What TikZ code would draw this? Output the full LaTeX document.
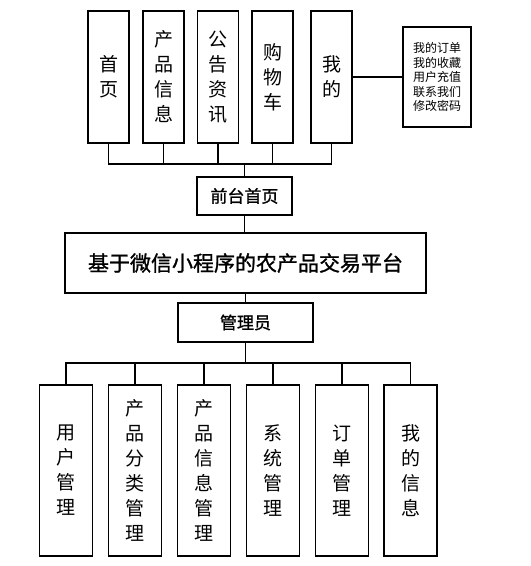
\documentclass[tikz,border=0pt]{standalone}
\usepackage{fontspec}
\newfontfamily\cjk{Noto Sans CJK SC}
\newfontfamily\cjkb[FakeBold=1.2]{Noto Sans CJK SC}
\usepackage{tikz}
\usetikzlibrary{positioning}

\begin{document}
\begin{tikzpicture}[
    x=1pt, y=-1pt,
    every node/.style = {draw, line width=1.3pt, inner sep=0pt, align=center, font=\cjk},
    topbox/.style = {minimum width=41pt, minimum height=132pt, font=\cjk\fontsize{19}{25}\selectfont},
    botbox/.style = {minimum width=53pt, minimum height=171pt, font=\cjk\fontsize{19}{25}\selectfont},
    line/.style = {line width=1.3pt}
  ]
  \useasboundingbox (0,0) rectangle (531,566);

  % 前台
  \node[topbox] (sy) at (108.5,77) {首\\页};
  \node[topbox] (cp) at (163.5,77) {产\\品\\信\\息};
  \node[topbox] (gg) at (218,77) {公\\告\\资\\讯};
  \node[topbox] (gw) at (272.5,77) {购\\物\\车};
  \node[topbox] (wd) at (331.5,77) {我\\的};
  \node[minimum width=68pt, minimum height=100pt, font=\cjk\fontsize{12}{14.5}\selectfont]
    (wdx) at (437,77) {我的订单\\我的收藏\\用户充值\\联系我们\\修改密码};
  \node[minimum width=95pt, minimum height=38pt, font=\cjkb\fontsize{17}{20}\selectfont]
    (qt) at (244.5,196) {前台首页};
  \coordinate (tb) at (244.5,164);
  \draw[line] (sy.south) |- (tb);
  \draw[line] (cp.south) |- (tb);
  \draw[line] (gg.south) |- (tb);
  \draw[line] (gw.south) |- (tb);
  \draw[line] (wd.south) |- (tb);
  \draw[line] (tb) -- (qt.north);
  \draw[line] (wd.east) -- (wdx.west);

  % 平台
  \node[minimum width=361pt, minimum height=60pt, font=\cjkb\fontsize{21}{26}\selectfont]
    (pt) at (245.5,263) {基于微信小程序的农产品交易平台};
  \draw[line] (qt.south) -- (qt.south |- pt.north);

  % 后台
  \node[minimum width=135pt, minimum height=39pt, font=\cjkb\fontsize{17}{20}\selectfont]
    (gly) at (245.5,322.5) {管理员};
  \draw[line] (pt.south) -- (gly.north);
  \node[botbox] (yh) at (66,470.5) {用\\户\\管\\理};
  \node[botbox] (fl) at (135,470.5) {产\\品\\分\\类\\管\\理};
  \node[botbox] (xx) at (204,470.5) {产\\品\\信\\息\\管\\理};
  \node[botbox] (xt) at (273,470.5) {系\\统\\管\\理};
  \node[botbox] (dd) at (342,470.5) {订\\单\\管\\理};
  \node[botbox] (wx) at (410.5,470.5) {我\\的\\信\\息};
  \coordinate (bb) at (245.5,363);
  \draw[line] (gly.south) -- (bb);
  \draw[line] (bb) -| (yh.north);
  \draw[line] (bb) -| (fl.north);
  \draw[line] (bb) -| (xx.north);
  \draw[line] (bb) -| (xt.north);
  \draw[line] (bb) -| (dd.north);
  \draw[line] (bb) -| (wx.north);
\end{tikzpicture}
\end{document}
